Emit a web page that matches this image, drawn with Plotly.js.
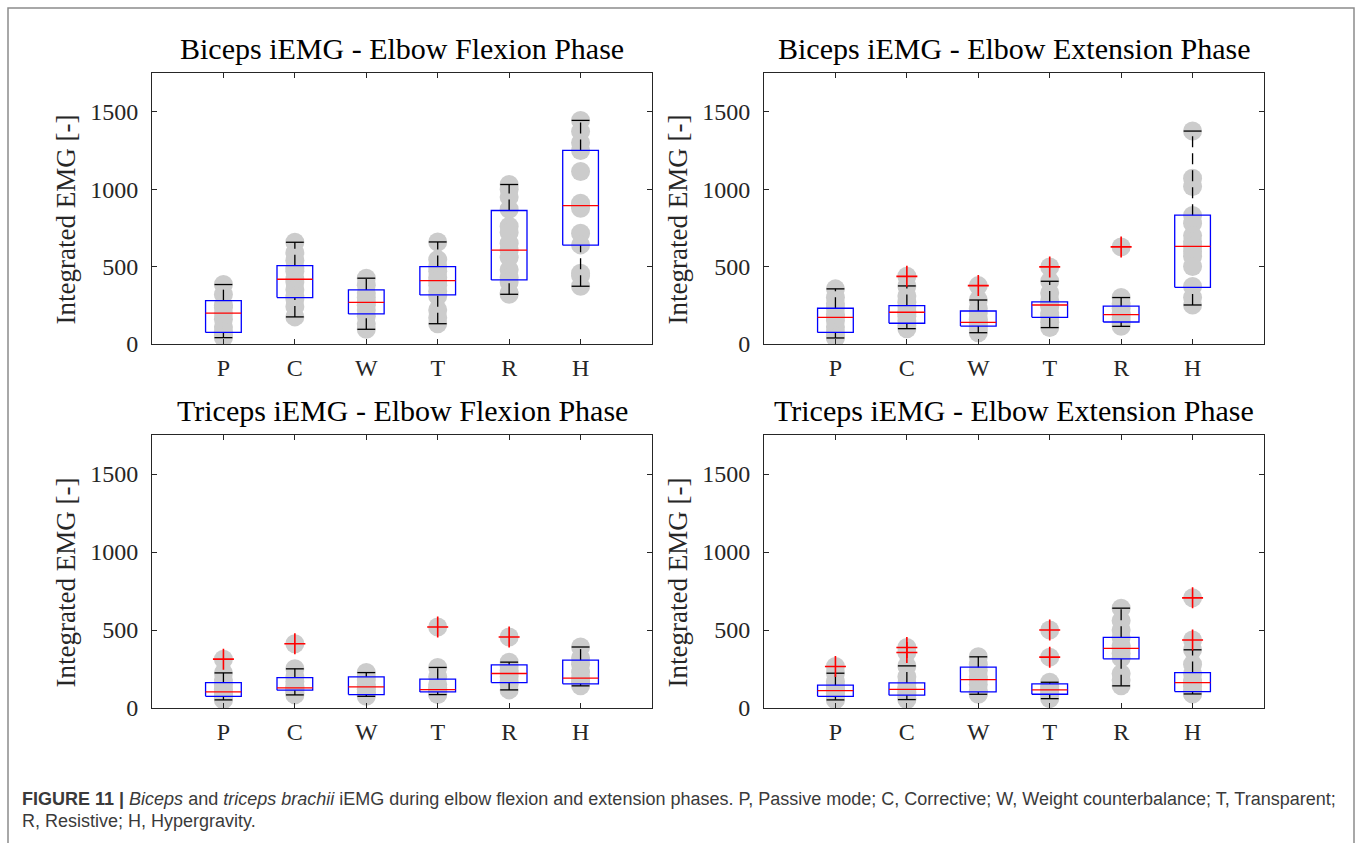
<!DOCTYPE html>
<html>
<head>
<meta charset="utf-8">
<script src="https://cdn.plot.ly/plotly-3.0.1.min.js"></script>
<style>html,body{margin:0;padding:0;background:#fff;}#chart{width:1357px;height:843px;}</style>
</head>
<body>
<div id="chart"></div>
<script>
// ---------- data ----------
const categories = ['P', 'C', 'W', 'T', 'R', 'H'];
const panelTitles = ['Biceps iEMG - Elbow Flexion Phase', 'Biceps iEMG - Elbow Extension Phase',
                     'Triceps iEMG - Elbow Flexion Phase', 'Triceps iEMG - Elbow Extension Phase'];
const yTickVals = [0, 500, 1000, 1500];
const yLabel = 'Integrated EMG [-]';

// Biceps - flexion
const bfPts = [
  [384, 320, 250, 235, 200, 160, 110, 80, 55, 41],
  [657, 590, 540, 490, 470, 418, 400, 350, 310, 290, 240, 175],
  [425, 380, 330, 300, 270, 250, 220, 180, 130, 95],
  [659, 545, 500, 470, 430, 409, 380, 340, 310, 220, 170, 131],
  [1030, 1000, 950, 870, 760, 720, 650, 606, 560, 480, 430, 400, 330, 321],
  [1444, 1373, 1300, 1250, 1114, 909, 894, 877, 715, 640, 457, 440, 373]
];
const bfQ1 = [75, 300, 194, 317, 414, 638];
const bfMed = [200, 418, 269, 409, 606, 894];
const bfQ3 = [280, 506, 349, 500, 862, 1250];
const bfLo = [41, 175, 95, 131, 321, 373];
const bfHi = [384, 657, 425, 659, 1030, 1444];
const bfOut = [[], [], [], [], [], []];

// Biceps - extension
const bePts = [
  [356, 300, 260, 231, 190, 172, 150, 110, 75, 50, 39],
  [437, 375, 310, 270, 240, 210, 200, 180, 150, 120, 99],
  [377, 284, 230, 200, 160, 140, 130, 110, 90, 73],
  [498, 405, 330, 280, 260, 250, 240, 200, 180, 140, 106],
  [627, 300, 260, 230, 200, 190, 170, 150, 130, 114],
  [1375, 1071, 1017, 830, 780, 700, 660, 631, 600, 565, 500, 371, 300, 252]
];
const beQ1 = [75, 134, 116, 172, 142, 366];
const beMed = [172, 205, 140, 252, 190, 631];
const beQ3 = [231, 248, 213, 272, 244, 832];
const beLo = [39, 99, 73, 106, 114, 252];
const beHi = [356, 375, 284, 405, 300, 1375];
const beOut = [[], [437], [377], [498], [627], []];

// Triceps - flexion
const tfPts = [
  [313, 225, 180, 150, 120, 103, 90, 75, 60, 52],
  [412, 251, 200, 170, 140, 129, 120, 110, 95, 84],
  [227, 200, 180, 150, 135, 120, 100, 86, 75],
  [519, 260, 200, 150, 130, 118, 110, 100, 90, 86],
  [455, 294, 270, 240, 221, 200, 170, 150, 116],
  [391, 320, 280, 230, 191, 170, 155, 142]
];
const tfQ1 = [75, 114, 86, 103, 163, 155];
const tfMed = [103, 129, 135, 118, 221, 191];
const tfQ3 = [163, 195, 200, 185, 277, 307];
const tfLo = [52, 84, 75, 86, 116, 142];
const tfHi = [225, 251, 227, 260, 294, 391];
const tfOut = [[313], [412], [], [519], [455], []];

// Triceps - extension
const tePts = [
  [266, 223, 170, 140, 120, 112, 95, 75, 60, 52],
  [388, 356, 270, 200, 160, 130, 120, 100, 82, 60, 54],
  [328, 280, 240, 200, 182, 150, 110, 95, 88],
  [500, 326, 165, 140, 120, 116, 100, 80, 60],
  [640, 560, 500, 450, 400, 382, 350, 320, 220, 180, 142],
  [706, 436, 373, 280, 220, 180, 163, 140, 110, 95, 90]
];
const teQ1 = [75, 82, 103, 88, 315, 105];
const teMed = [112, 120, 182, 116, 382, 163];
const teQ3 = [146, 161, 262, 155, 453, 227];
const teLo = [52, 54, 88, 60, 142, 90];
const teHi = [223, 270, 328, 165, 640, 373];
const teOut = [[266], [388, 356], [], [500, 326], [], [706, 436]];

const captionLine1 = '<b>FIGURE 11 |</b> <i>Biceps</i> and <i>triceps brachii</i> iEMG during elbow flexion and extension phases. P, Passive mode; C, Corrective; W, Weight counterbalance; T, Transparent;';
const captionLine2 = 'R, Resistive; H, Hypergravity.';

// ---------- styling / layout ----------
const W = 1357, H = 843;
const px = v => v / W;
const py = v => 1 - v / H;
const serif = 'Liberation Serif, Times New Roman, serif';
const axCol = '#262626';
const boxHalf = 0.25, capHalf = 0.125;

const panels = [
  {pts: bfPts, q1: bfQ1, med: bfMed, q3: bfQ3, lo: bfLo, hi: bfHi, out: bfOut, xd: [152, 652], yd: [73, 344]},
  {pts: bePts, q1: beQ1, med: beMed, q3: beQ3, lo: beLo, hi: beHi, out: beOut, xd: [764, 1264], yd: [73, 344]},
  {pts: tfPts, q1: tfQ1, med: tfMed, q3: tfQ3, lo: tfLo, hi: tfHi, out: tfOut, xd: [152, 652], yd: [435, 708]},
  {pts: tePts, q1: teQ1, med: teMed, q3: teQ3, lo: teLo, hi: teHi, out: teOut, xd: [764, 1264], yd: [435, 708]}
];

const traces = [];
const layout = {
  width: W, height: H,
  margin: {l: 0, r: 0, t: 0, b: 0},
  paper_bgcolor: '#fff', plot_bgcolor: '#fff',
  showlegend: false,
  annotations: [], shapes: []
};

panels.forEach((p, k) => {
  const n = k + 1;
  const xa = n === 1 ? 'x' : 'x' + n;
  const ya = n === 1 ? 'y' : 'y' + n;
  // grey data points
  const dx = [], dy = [];
  p.pts.forEach((arr, i) => arr.forEach(v => { dx.push(i + 1); dy.push(v); }));
  traces.push({type: 'scatter', mode: 'markers', x: dx, y: dy, xaxis: xa, yaxis: ya,
    marker: {size: 19, color: '#cccccc', line: {width: 0}}, hoverinfo: 'skip'});
  // whiskers (dashed)
  const wx = [], wy = [];
  categories.forEach((c, i) => {
    const x = i + 1;
    wx.push(x, x, null, x, x, null);
    wy.push(p.q3[i], p.hi[i], null, p.lo[i], p.q1[i], null);
  });
  traces.push({type: 'scatter', mode: 'lines', x: wx, y: wy, xaxis: xa, yaxis: ya,
    line: {color: '#000', width: 1.3, dash: '11px,6px'}, hoverinfo: 'skip'});
  // caps
  const cx = [], cy = [];
  categories.forEach((c, i) => {
    const x = i + 1;
    cx.push(x - capHalf, x + capHalf, null, x - capHalf, x + capHalf, null);
    cy.push(p.hi[i], p.hi[i], null, p.lo[i], p.lo[i], null);
  });
  traces.push({type: 'scatter', mode: 'lines', x: cx, y: cy, xaxis: xa, yaxis: ya,
    line: {color: '#000', width: 1.3}, hoverinfo: 'skip'});
  // boxes
  const bx = [], by = [];
  categories.forEach((c, i) => {
    const x = i + 1;
    bx.push(x - boxHalf, x + boxHalf, x + boxHalf, x - boxHalf, x - boxHalf, null);
    by.push(p.q1[i], p.q1[i], p.q3[i], p.q3[i], p.q1[i], null);
  });
  traces.push({type: 'scatter', mode: 'lines', x: bx, y: by, xaxis: xa, yaxis: ya,
    line: {color: '#0000ff', width: 1.3}, hoverinfo: 'skip'});
  // medians
  const mx = [], my = [];
  categories.forEach((c, i) => {
    const x = i + 1;
    mx.push(x - boxHalf, x + boxHalf, null);
    my.push(p.med[i], p.med[i], null);
  });
  traces.push({type: 'scatter', mode: 'lines', x: mx, y: my, xaxis: xa, yaxis: ya,
    line: {color: '#ff0000', width: 1.3}, hoverinfo: 'skip'});
  // outliers
  const ox = [], oy = [];
  p.out.forEach((arr, i) => arr.forEach(v => { ox.push(i + 1); oy.push(v); }));
  traces.push({type: 'scatter', mode: 'markers', x: ox, y: oy, xaxis: xa, yaxis: ya,
    marker: {symbol: 'cross-thin', size: 15, color: '#ff0000', line: {color: '#ff0000', width: 1.6}}, hoverinfo: 'skip'});

  const axisBase = {
    showgrid: false, zeroline: false, showline: true, linecolor: axCol, linewidth: 1,
    mirror: 'ticks', ticks: 'inside', ticklen: 5, tickwidth: 1, tickcolor: axCol,
    tickfont: {family: serif, size: 24, color: axCol}, fixedrange: true
  };
  layout['xaxis' + (n === 1 ? '' : n)] = Object.assign({}, axisBase, {
    domain: [px(p.xd[0]), px(p.xd[1])], range: [0, 7], anchor: ya,
    tickvals: categories.map((c, i) => i + 1), ticktext: categories, ticklabelstandoff: 2
  });
  layout['yaxis' + (n === 1 ? '' : n)] = Object.assign({}, axisBase, {
    domain: [py(p.yd[1]), py(p.yd[0])], range: [0, 1750], anchor: xa,
    tickvals: yTickVals, ticktext: yTickVals.map(String), ticklabelstandoff: 8
  });
  // panel title
  layout.annotations.push({xref: 'paper', yref: 'paper', x: px((p.xd[0] + p.xd[1]) / 2), y: py(p.yd[0] - 6),
    xanchor: 'center', yanchor: 'bottom', showarrow: false, text: panelTitles[k],
    font: {family: serif, size: 30, color: '#000'}});
  // y label
  layout.annotations.push({xref: 'paper', yref: 'paper', x: px(p.xd[0] - 87), y: py((p.yd[0] + p.yd[1]) / 2 + 11),
    xanchor: 'center', yanchor: 'middle', showarrow: false, textangle: -90, text: yLabel,
    font: {family: serif, size: 27, color: axCol}});
});

// caption
layout.annotations.push({xref: 'paper', yref: 'paper', x: px(20), y: py(799), xanchor: 'left', yanchor: 'middle',
  showarrow: false, text: captionLine1, font: {family: 'Liberation Sans, Arial, sans-serif', size: 18, color: '#3a3a3a'}});
layout.annotations.push({xref: 'paper', yref: 'paper', x: px(20), y: py(821), xanchor: 'left', yanchor: 'middle',
  showarrow: false, text: captionLine2, font: {family: 'Liberation Sans, Arial, sans-serif', size: 18, color: '#3a3a3a'}});
// outer frame
layout.shapes.push({type: 'rect', xref: 'paper', yref: 'paper', x0: px(8), x1: px(1354), y0: py(860), y1: py(8),
  line: {color: '#8c8c8c', width: 1.5}, fillcolor: 'rgba(0,0,0,0)'});

Plotly.newPlot('chart', traces, layout, {staticPlot: true, displayModeBar: false});
</script>
</body>
</html>
